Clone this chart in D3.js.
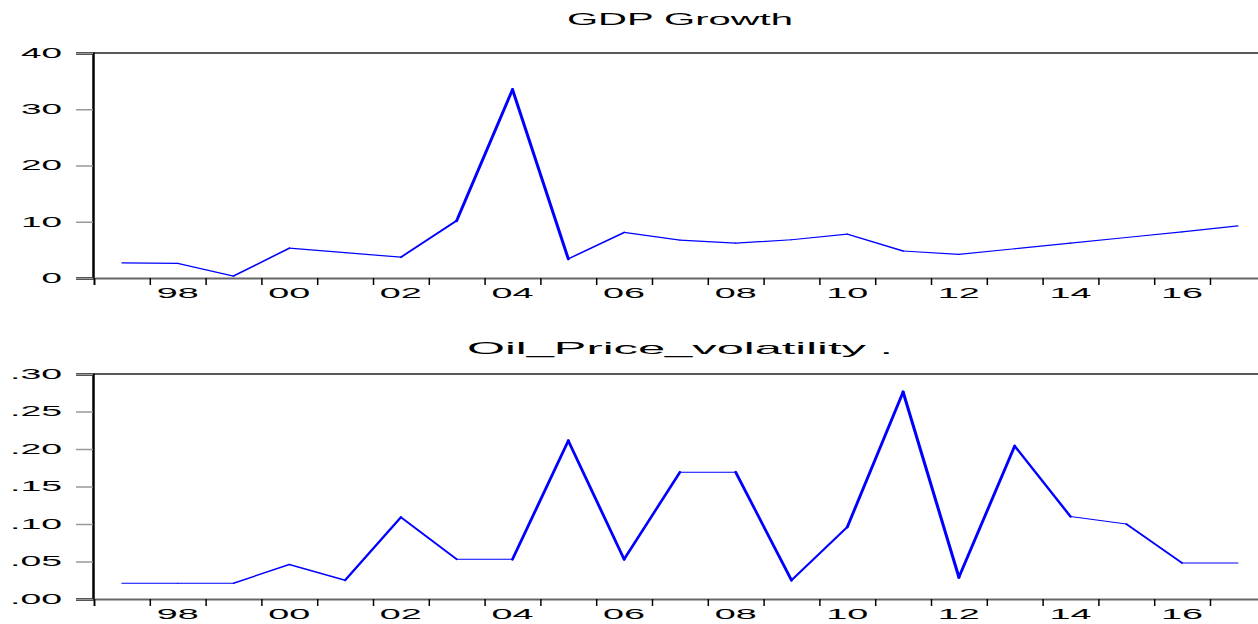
<!DOCTYPE html>
<html>
<head>
<meta charset="utf-8">
<script src="https://cdn.jsdelivr.net/npm/d3@7"></script>
<style>
  body { margin: 0; background: #fff; }
  svg { display: block; font-family: "Liberation Sans", Arial, sans-serif; }
</style>
</head>
<body>
<svg id="chart"></svg>
<script>
// data
const years = [1997, 1998, 1999, 2000, 2001, 2002, 2003, 2004, 2005, 2006, 2007,
               2008, 2009, 2010, 2011, 2012, 2013, 2014, 2015, 2016, 2017];
const gdpGrowth = [2.7, 2.6, 0.35, 5.3, 4.5, 3.7, 10.2, 33.5, 3.4, 8.1, 6.75,
                   6.2, 6.8, 7.8, 4.8, 4.2, 5.2, 6.2, 7.2, 8.2, 9.25];
const oilVol = [0.021, 0.021, 0.021, 0.046, 0.025, 0.109, 0.053, 0.053, 0.211, 0.053, 0.169,
                0.169, 0.025, 0.096, 0.276, 0.029, 0.204, 0.110, 0.100, 0.048, 0.048];
const gdpTicks = [0, 10, 20, 30, 40];
const oilTicks = [0, 0.05, 0.10, 0.15, 0.20, 0.25, 0.30];
const yearLabels = [1998, 2000, 2002, 2004, 2006, 2008, 2010, 2012, 2014, 2016];

const W = 1258, H = 624;
const left = 94, yearW = 55.8;

const svg = d3.select('#chart')
  .attr('width', W)
  .attr('height', H);

// one slot per year, point sits in the middle of its slot
const x = d3.scaleLinear()
  .domain([1997, 2018])
  .range([left, left + 21 * yearW]);

// draws one panel
function panel(title, values, ticks, fmt, top, titleY, titleW) {
  const h = 225;
  const y = d3.scaleLinear()
    .domain([ticks[0], ticks[ticks.length - 1]])
    .range([top + h, top]);

  const g = svg.append('g');

  // title
  g.append('text')
    .attr('x', 680)
    .attr('y', titleY)
    .attr('text-anchor', 'middle')
    .attr('font-size', 17)
    .attr('textLength', titleW)
    .attr('lengthAdjust', 'spacingAndGlyphs')
    .text(title);

  // top frame line
  g.append('line')
    .attr('x1', left).attr('x2', W)
    .attr('y1', top).attr('y2', top)
    .attr('stroke', '#222')
    .attr('stroke-width', 1.5);

  // y axis
  const yAxis = d3.axisLeft(y)
    .tickValues(ticks)
    .tickSize(17)
    .tickFormat(fmt);
  const ya = g.append('g')
    .attr('transform', `translate(${left - 1},0)`)
    .call(yAxis);
  ya.select('.domain').attr('stroke', '#000').attr('stroke-width', 2.5);
  ya.selectAll('.tick line').attr('stroke', '#999').attr('stroke-width', 1.5);
  ya.selectAll('.tick text')
    .attr('x', -31)
    .attr('font-size', 14)
    .attr('fill', '#000')
    .attr('textLength', d => {
      const s = fmt(d);
      return s.replace(/\./g, '').length * 20.5 + (s.includes('.') ? 11 : 0);
    })
    .attr('lengthAdjust', 'spacingAndGlyphs');

  // x axis, ticks at the start of each year
  const xAxis = d3.axisBottom(x)
    .tickValues(d3.range(1997, 2019))
    .tickSize(7)
    .tickFormat('');
  const xa = g.append('g')
    .attr('transform', `translate(0,${top + h})`)
    .call(xAxis);
  xa.select('.domain').attr('stroke', '#666').attr('stroke-width', 2);
  xa.selectAll('.tick line').attr('stroke', '#000').attr('stroke-width', 1.5);

  g.selectAll('.ylab')
    .data(yearLabels)
    .join('text')
      .attr('x', d => x(d + 0.5))
      .attr('y', top + h + 20)
      .attr('text-anchor', 'middle')
      .attr('font-size', 14)
      .attr('textLength', 42)
      .attr('lengthAdjust', 'spacingAndGlyphs')
      .text(d => String(d % 100).padStart(2, '0'));

  // line, steep pieces drawn thicker like the original renderer
  const pts = values.map((v, i) => [x(years[i] + 0.5), y(v)]);
  const segs = d3.pairs(pts);
  g.selectAll('.seg')
    .data(segs)
    .join('line')
      .attr('x1', d => d[0][0]).attr('y1', d => d[0][1])
      .attr('x2', d => d[1][0]).attr('y2', d => d[1][1])
      .attr('stroke', '#0000ff')
      .attr('stroke-linecap', 'round')
      .attr('stroke-width', d => {
        const dx = d[1][0] - d[0][0], dy = d[1][1] - d[0][1];
        const s = Math.abs(dy) / Math.hypot(dx, dy);
        return 1.2 + 2.0 * s * s;
      });
}

panel('GDP Growth', gdpGrowth, gdpTicks, d => String(d), 53, 25, 226);
panel('Oil_Price_volatility .', oilVol, oilTicks,
      d => '.' + String(Math.round(d * 100)).padStart(2, '0'), 374, 354, 426);
</script>
</body>
</html>
